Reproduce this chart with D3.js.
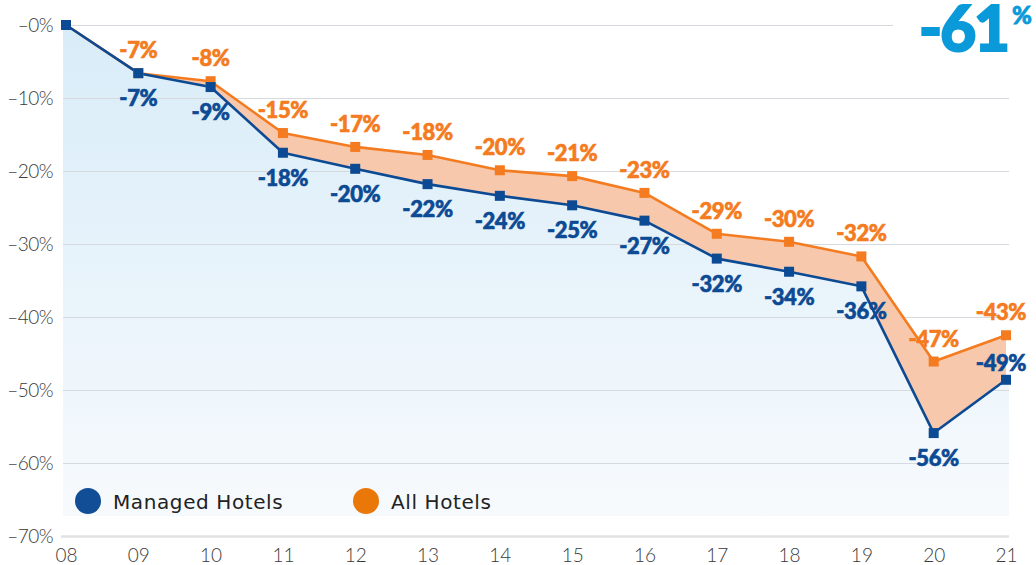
<!DOCTYPE html>
<html><head><meta charset="utf-8">
<script src="https://cdn.jsdelivr.net/npm/d3@7"></script>
<style>
html,body{margin:0;padding:0;background:#fff;}
svg{display:block;}
</style></head>
<body>
<svg id="chart" width="1036" height="565"></svg>
<script>
const categories = ["08","09","10","11","12","13","14","15","16","17","18","19","20","21"];
const managedValues = [0,-6.6,-8.5,-17.5,-19.7,-21.8,-23.4,-24.7,-26.8,-32.0,-33.8,-35.8,-55.9,-48.6];
const allValues     = [0,-6.6,-7.7,-14.8,-16.7,-17.8,-19.9,-20.7,-23.0,-28.6,-29.7,-31.7,-46.1,-42.5];
const managedLabels = ["","-7%","-9%","-18%","-20%","-22%","-24%","-25%","-27%","-32%","-34%","-36%","-56%","-49%"];
const allLabels     = ["","-7%","-8%","-15%","-17%","-18%","-20%","-21%","-23%","-29%","-30%","-32%","-47%","-43%"];
const yTicks = [0,-10,-20,-30,-40,-50,-60,-70];
const yTickLabels = ["–0%","–10%","–20%","–30%","–40%","–50%","–60%","–70%"];
const seriesNames = ["Managed Hotels","All Hotels"];
const headline = "-61";

const BLUE = "#0c4a94", ORANGE = "#f47b20";
const svg = d3.select("#chart");
const x = d3.scalePoint().domain(categories).range([66,1006]);
const y = d3.scaleLinear().domain([0,-70]).range([25,536]);
const gx0 = 63, gx1 = 1009;

const defs = svg.append("defs");
const grad = defs.append("linearGradient").attr("id","bg").attr("x1",0).attr("y1",0).attr("x2",0).attr("y2",1);
grad.append("stop").attr("offset","0%").attr("stop-color","#d8ecf8");
grad.append("stop").attr("offset","100%").attr("stop-color","#f7fafd");

const managed = categories.map((c,i)=>({c, v:managedValues[i], a:allValues[i]}));

// blue background area under managed line
const bottomY = 516;
const bgData = [managed[0]].concat(managed).concat([managed[managed.length-1]]);
const nBg = bgData.length;
svg.append("path")
  .attr("d", d3.area()
    .x((d,i)=> i===0 ? gx0 : (i===nBg-1 ? gx1 : x(d.c)))
    .y0(bottomY).y1(d=>y(d.v))(bgData))
  .attr("fill","url(#bg)");

// grid + y axis
const yAxis = d3.axisLeft(y).tickValues(yTicks).tickSize(-(gx1-gx0)).tickPadding(10)
  .tickFormat((d,i)=>yTickLabels[i]);
const gy = svg.append("g").attr("transform",`translate(${gx0},0)`).call(yAxis);
gy.select(".domain").remove();
gy.selectAll(".tick line").attr("stroke","#d6d9dd").attr("stroke-width",1.2);
gy.selectAll(".tick text").attr("fill","#3a3a3a").style("font-family","Lato, sans-serif")
  .style("font-size","19px").style("font-weight","300").attr("letter-spacing","-0.5");
gy.selectAll(".tick").filter(d=>d===0).select("line").attr("x2", 893-gx0);
gy.selectAll(".tick").filter(d=>d===-70).select("line").attr("stroke","#e2e2e2").attr("stroke-width",2.5).attr("x1",-2);

// x axis labels
const xAxis = d3.axisBottom(x).tickSize(0).tickPadding(0);
const gxA = svg.append("g").call(xAxis);
gxA.select(".domain").remove();
gxA.selectAll(".tick text").attr("fill","#3a3a3a").attr("y",562).attr("dy",null).style("font-family","Lato, sans-serif")
  .style("font-size","19px").style("font-weight","300");

// band between lines
svg.append("path")
  .datum(managed)
  .attr("d", d3.area().x(d=>x(d.c)).y0(d=>y(d.v)).y1(d=>y(d.a)))
  .attr("fill","#f7c8ab");

// lines
const line = key => d3.line().x(d=>x(d.c)).y(d=>y(d[key]));
svg.append("path").datum(managed).attr("d",line("a")).attr("fill","none").attr("stroke",ORANGE).attr("stroke-width",2.6).attr("stroke-linejoin","round");
svg.append("path").datum(managed).attr("d",line("v")).attr("fill","none").attr("stroke",BLUE).attr("stroke-width",2.6).attr("stroke-linejoin","round");

// markers
const S = 10;
svg.append("g").selectAll("rect").data(managed.slice(1)).join("rect")
  .attr("x",d=>x(d.c)-S/2).attr("y",d=>y(d.a)-S/2).attr("width",S).attr("height",S).attr("fill",ORANGE);
svg.append("g").selectAll("rect").data(managed).join("rect")
  .attr("x",d=>x(d.c)-S/2).attr("y",d=>y(d.v)-S/2).attr("width",S).attr("height",S).attr("fill",BLUE);

// labels
const lastI = categories.length-1;
const lblStyle = (sel,col) => sel.style("font-family","Lato, sans-serif").style("font-weight","900")
  .style("font-size","22px").attr("letter-spacing","-0.4").attr("text-anchor","middle")
  .attr("fill",col).attr("stroke",col).attr("stroke-width",0.6).attr("paint-order","stroke");
svg.append("g").selectAll("text").data(managed).join("text")
  .text((d,i)=>allLabels[i])
  .attr("x",(d,i)=> i===lastI ? x(d.c)-5 : x(d.c))
  .attr("y",d=>y(d.a)-15)
  .call(lblStyle, ORANGE);
svg.append("g").selectAll("text").data(managed).join("text")
  .text((d,i)=>managedLabels[i])
  .attr("x",(d,i)=> i===lastI ? x(d.c)-5 : x(d.c))
  .attr("y",(d,i)=> i===lastI ? y(d.v)-9 : y(d.v)+33)
  .call(lblStyle, BLUE);

// legend
const legend = svg.append("g");
const legItems = [{n:seriesNames[0],c:"#124e96",cx:88},{n:seriesNames[1],c:"#ea7809",cx:366}];
legItems.forEach(it=>{
  legend.append("circle").attr("cx",it.cx).attr("cy",501).attr("r",13).attr("fill",it.c);
  legend.append("text").attr("x",it.cx+25).attr("y",509).text(it.n)
    .attr("fill","#222").style("font-family","'DejaVu Sans', sans-serif").style("font-size","20px")
    .attr("letter-spacing","0.6");
});

// headline
svg.append("text").attr("x",919).attr("y",51).attr("fill","#0a9ad9")
  .attr("stroke","#0a9ad9").attr("stroke-width",2).attr("paint-order","stroke")
  .style("font-family","Lato, sans-serif").style("font-weight","900").style("font-size","62px").attr("letter-spacing","-2")
  .text(headline);
svg.append("text").attr("x",1012).attr("y",24).attr("fill","#0a9ad9")
  .attr("stroke","#0a9ad9").attr("stroke-width",0.8)
  .style("font-family","Lato, sans-serif").style("font-weight","900").style("font-size","24px").text("%");
</script>
</body></html>
